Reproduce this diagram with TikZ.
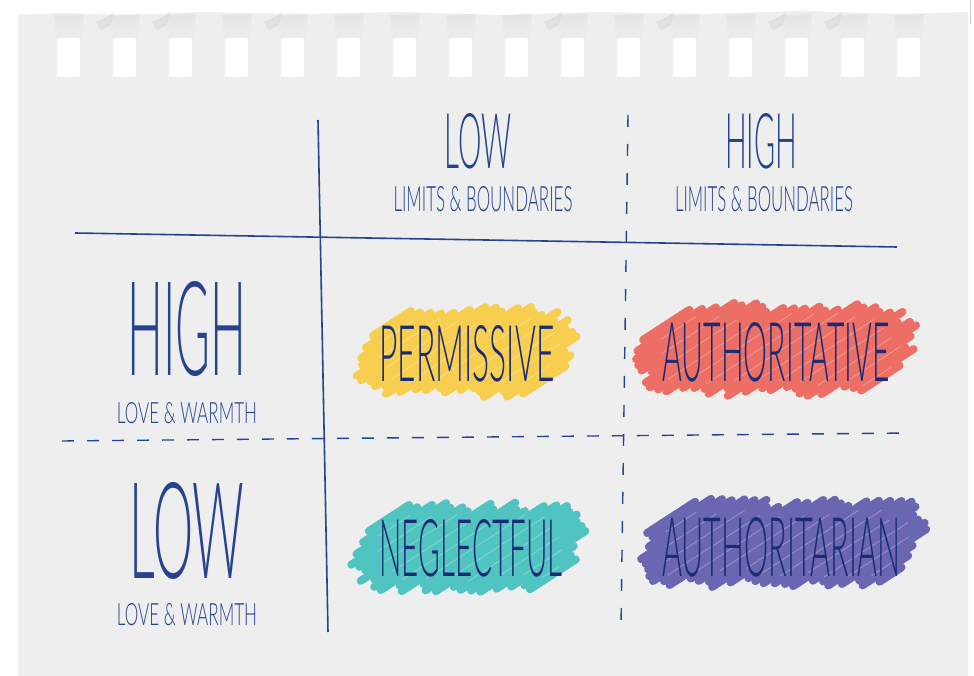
\documentclass[tikz,border=0pt]{standalone}
\usepackage{fontspec}
\usepackage{graphicx}
\IfFontExistsTF{Lato Light}{\newfontfamily\hand{Lato Light}}{%
  \IfFontExistsTF{DejaVu Sans ExtraLight}{\newfontfamily\hand{DejaVu Sans ExtraLight}}{\newfontfamily\hand{Lato}}}
\definecolor{paper}{HTML}{EEEEEE}
\definecolor{curl}{HTML}{DCE1E1}
\definecolor{ink}{HTML}{25438F}
\definecolor{inkdark}{HTML}{1B2C74}
\definecolor{blobyellow}{HTML}{F8CE4F}
\definecolor{blobred}{HTML}{EC6E64}
\definecolor{blobteal}{HTML}{50C4C1}
\definecolor{blobpurple}{HTML}{6B66B2}
\newcommand\fittext[3]{\resizebox{#1pt}{#2pt}{\hand #3}}
% one pass of parallel strokes filling a sheared stadium
% #1 cx, #2 cy, #3 a, #4 b, #5 style, #6 shorten (px), #7 offset, #8 every n-th
\newcommand\scribpass[8]{%
  \pgfmathsetmacro\sbL{(#3-#4)/100}\pgfmathsetmacro\sbB{#4/100}%
  \def\sbk{0.3}%
  \def\sbgap{0.062}%
  \pgfmathsetmacro\sbdx{cos(33)}\pgfmathsetmacro\sbdy{-sin(33)}%
  \pgfmathsetmacro\sbnx{sin(33)}\pgfmathsetmacro\sbny{cos(33)}%
  \pgfmathsetmacro\sbDX{\sbdx+\sbk*\sbdy}\pgfmathsetmacro\sbDY{\sbdy}%
  \pgfmathsetmacro\sbdd{\sbDX*\sbDX+\sbDY*\sbDY}%
  \pgfmathsetmacro\sbsm{\sbL*\sbnx+\sbB+0.2}%
  \pgfmathsetmacro\sbmin{(4+2*#6)/100}%
  \pgfmathtruncatemacro\sbn{2*\sbsm/\sbgap}%
  \foreach \i in {0,...,\sbn}{%
    \pgfmathsetmacro\sbs{-\sbsm+\i*\sbgap+#7}%
    \pgfmathsetmacro\sbP{\sbs*(\sbnx+\sbk*\sbny)}%
    \pgfmathsetmacro\sbQ{\sbs*\sbny}%
    \pgfmathsetmacro\sbxlo{(-\sbL-\sbP)/\sbDX}%
    \pgfmathsetmacro\sbxhi{(\sbL-\sbP)/\sbDX}%
    \pgfmathsetmacro\sbylo{(\sbB-\sbQ)/\sbDY}%
    \pgfmathsetmacro\sbyhi{(-\sbB-\sbQ)/\sbDY}%
    \pgfmathsetmacro\sbrlo{max(\sbxlo,\sbylo)}%
    \pgfmathsetmacro\sbrhi{min(\sbxhi,\sbyhi)}%
    \pgfmathsetmacro\sbqx{\sbP-\sbL}%
    \pgfmathsetmacro\sbqd{\sbqx*\sbDX+\sbQ*\sbDY}%
    \pgfmathsetmacro\sbDR{\sbqd*\sbqd-\sbdd*(\sbqx*\sbqx+\sbQ*\sbQ-\sbB*\sbB)}%
    \pgfmathsetmacro\sbRlo{(-\sbqd-sqrt(max(\sbDR,0)))/\sbdd}%
    \pgfmathsetmacro\sbRhi{(-\sbqd+sqrt(max(\sbDR,0)))/\sbdd}%
    \pgfmathsetmacro\sbqx{\sbP+\sbL}%
    \pgfmathsetmacro\sbqd{\sbqx*\sbDX+\sbQ*\sbDY}%
    \pgfmathsetmacro\sbDL{\sbqd*\sbqd-\sbdd*(\sbqx*\sbqx+\sbQ*\sbQ-\sbB*\sbB)}%
    \pgfmathsetmacro\sbLlo{(-\sbqd-sqrt(max(\sbDL,0)))/\sbdd}%
    \pgfmathsetmacro\sbLhi{(-\sbqd+sqrt(max(\sbDL,0)))/\sbdd}%
    \pgfmathsetmacro\sbua{ifthenelse(\sbrlo<\sbrhi,\sbrlo,9)}%
    \pgfmathsetmacro\sbub{ifthenelse(\sbDR>0,\sbRlo,9)}%
    \pgfmathsetmacro\sbuc{ifthenelse(\sbDL>0,\sbLlo,9)}%
    \pgfmathsetmacro\sbva{ifthenelse(\sbrlo<\sbrhi,\sbrhi,-9)}%
    \pgfmathsetmacro\sbvb{ifthenelse(\sbDR>0,\sbRhi,-9)}%
    \pgfmathsetmacro\sbvc{ifthenelse(\sbDL>0,\sbLhi,-9)}%
    \pgfmathsetmacro\sbtlo{min(\sbua,\sbub,\sbuc)}%
    \pgfmathsetmacro\sbthi{max(\sbva,\sbvb,\sbvc)}%
    \pgfmathtruncatemacro\sbvalid{ifthenelse(\sbthi-\sbtlo>\sbmin,1,0)}%
    \pgfmathtruncatemacro\sbm{mod(\i,#8)}%
    \ifnum\sbvalid=1 \ifnum\sbm=0
      \pgfmathsetmacro\sbta{100*\sbtlo+#6+9*rand}%
      \pgfmathsetmacro\sbtb{100*\sbthi-#6+9*rand}%
      \pgfmathsetmacro\sbpx{#1+100*\sbs*\sbnx}%
      \pgfmathsetmacro\sbpy{#2+100*\sbs*\sbny}%
      \draw[#5] (\sbpx+\sbta*\sbdx,\sbpy+\sbta*\sbdy) -- (\sbpx+\sbtb*\sbdx,\sbpy+\sbtb*\sbdy);
    \fi\fi
  }%
}
% scribbled blob: cx, cy, a, b, colour, seed
\newcommand\scribblob[6]{%
  \pgfmathsetseed{#6}%
  \scribpass{#1}{#2}{#3}{#4}{scrib,draw=#5}{0}{0}{1}%
  \scribpass{#1}{#2}{#3}{#4}{streak}{18}{0.031}{2}%
}
\tikzset{
  scrib/.style={line width=8pt,line cap=round},
  streak/.style={draw=white,opacity=0.28,line width=0.9pt,line cap=round},
  gridline/.style={draw=ink,line width=1.6pt},
  gridldash/.style={draw=ink,line width=1.4pt,dash pattern=on 12pt off 13pt},
  gridvdash/.style={draw=ink,line width=1.4pt,dash pattern=on 12pt off 17pt},
  txt/.style={inner sep=0pt,text=ink},
  btxt/.style={inner sep=0pt,text=inkdark},
  hole/.style={fill=white,rounded corners=2pt}
}
\begin{document}
\begin{tikzpicture}[x=1pt,y=-1pt]
\useasboundingbox (0,0) rectangle (974,676);
\fill[white] (0,0) rectangle (974,676);
% paper sheet
\fill[paper] (18,15) -- (60,13) -- (130,15) -- (200,12) -- (300,14) -- (400,12) -- (500,15)
  -- (600,12) -- (700,14) -- (800,11) -- (900,14) -- (968,12) -- (968,676) -- (18,676) -- cycle;
% torn shaded bits above the holes
\foreach \k in {0,...,15}{
  \shade[top color=curl,bottom color=paper,opacity=0.6]
    ({54+56*\k},15) -- ({84+56*\k},14) -- ({81+56*\k},42) -- ({57+56*\k},42) -- cycle;
}
\foreach \k in {1,2,4,9,11,13,14}{
  \fill[curl!90!gray,opacity=0.55] ({40+56*\k},22) -- ({58+56*\k},13) -- ({54+56*\k},26) -- ({44+56*\k},30) -- cycle;
}
% holes of the spiral binding
\foreach \k in {0,...,15}{
  \fill[hole] ({57+56*\k},38) rectangle ++(23,39);
}
\draw[gray!40,line width=1pt] (970,0) -- (970,24);
% grid lines
\coordinate (vT) at (318,120);
\coordinate (vB) at (328,632);
\coordinate (hL) at (75,233);
\coordinate (hR) at (897,247);
\coordinate (dhL) at (62,441);
\coordinate (dhR) at (910,433);
\coordinate (dvT) at (628,115);
\coordinate (dvB) at (621,627);
\draw[gridline] (vT) -- (vB);
\draw[gridline] (hL) -- (hR);
\draw[gridldash] (dhL) -- (dhR);
\draw[gridvdash] (dvT) -- (dvB);
% headings
\node[txt] (lowTop) at (478,141) {\fittext{67}{55}{LOW}};
\node[txt] (lowTopSub) at (483,199) {\fittext{179}{25}{LIMITS \& BOUNDARIES}};
\node[txt] (highTop) at (761,141) {\fittext{72}{55}{HIGH}};
\node[txt] (highTopSub) at (764,199) {\fittext{178}{25}{LIMITS \& BOUNDARIES}};
\node[txt] (highLeft) at (187,329) {\fittext{119}{94}{HIGH}};
\node[txt] (highLeftSub) at (187,413) {\fittext{140}{21}{LOVE \& WARMTH}};
\node[txt] (lowLeft) at (187,531) {\fittext{115}{96}{LOW}};
\node[txt] (lowLeftSub) at (187,615) {\fittext{140}{22}{LOVE \& WARMTH}};
% scribbled blobs
\scribblob{466}{352}{104}{41}{blobyellow}{11}
\scribblob{777}{349}{133}{42}{blobred}{23}
\scribblob{467}{548}{110}{41}{blobteal}{37}
\scribblob{781}{543}{136}{40}{blobpurple}{41}
% styles in blobs
\node[btxt] (permissive) at (467,354) {\fittext{175}{56}{PERMISSIVE}};
\node[btxt] (authoritative) at (776,352) {\fittext{227}{59}{AUTHORITATIVE}};
\node[btxt] (neglectful) at (471,548) {\fittext{183}{57}{NEGLECTFUL}};
\node[btxt] (authoritarian) at (781,547) {\fittext{238}{59}{AUTHORITARIAN}};
\end{tikzpicture}
\end{document}
